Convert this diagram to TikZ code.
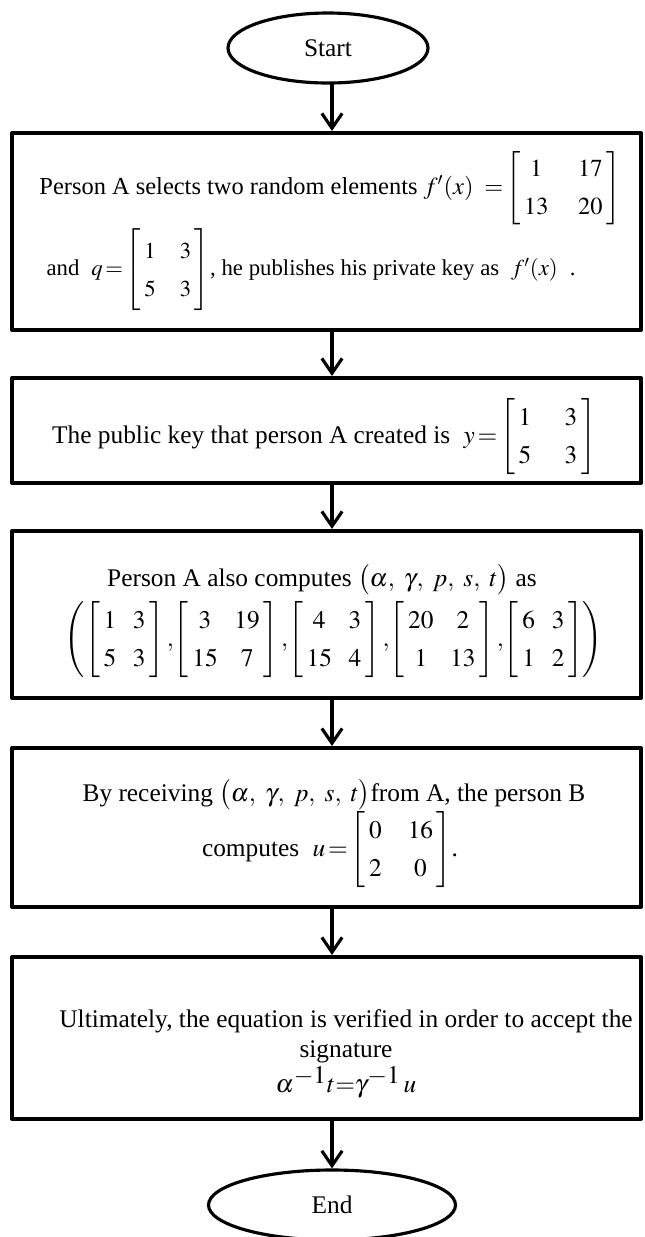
\documentclass[tikz,border=0pt]{standalone}
\usepackage{amsmath}
\usepackage{mathptmx}
\usepackage{fontspec}
\setmainfont{Liberation Serif}
\usetikzlibrary{arrows.meta,shapes.geometric}
\renewcommand{\arraystretch}{1.25}
% 2x2 matrix, optional column gap
\newcommand{\kmat}[5][16pt]{\left[\begin{array}{@{\hspace{2pt}}c@{\hspace{#1}}c@{\hspace{2pt}}}#2&#3\\#4&#5\end{array}\right]}
\tikzset{
  termnode/.style={ellipse,draw,line width=1.7pt,inner sep=0pt,font=\fontsize{13.7}{16.4}\selectfont},
  procbox/.style={rectangle,draw,line width=2.2pt,minimum width=629*0.54pt,inner sep=0pt},
  txt/.style={inner sep=0pt,align=center,font=\fontsize{13.7}{16.4}\selectfont},
  flow/.style={-{Straight Barb[length=8pt,width=11pt]},line width=1.7pt},
  every picture/.style={line cap=round,line join=round}
}

\begin{document}
\begin{tikzpicture}[x=0.54pt,y=-0.54pt]
  \useasboundingbox (0,0) rectangle (645,1237);
  % terminals
  \node[termnode,minimum width=200*0.54pt,minimum height=70*0.54pt] (start) at (328,48) {Start};
  \node[termnode,minimum width=247*0.54pt,minimum height=70*0.54pt] (end) at (332,1205) {End};
  % process boxes
  \node[procbox,minimum height=197*0.54pt] (b1) at (326.5,231.5) {};
  \node[procbox,minimum height=105*0.54pt] (b2) at (326.5,430.5) {};
  \node[procbox,minimum height=167*0.54pt] (b3) at (326.5,614.5) {};
  \node[procbox,minimum height=159*0.54pt] (b4) at (326.5,827.5) {};
  \node[procbox,minimum height=162*0.54pt] (b5) at (326.5,1038) {};
  % box texts
  \node[txt,font=\fontsize{13.2}{16.4}\selectfont] (t1a) at (330,188)
    {Person A selects two random elements $f'(x)\;\;{=}\kmat{1}{17}{13}{20}$};
  \node[txt,font=\fontsize{12.3}{16.4}\selectfont] (t1b) at (311,270)
    {and\; $q\,{=}\kmat[13pt]{1}{3}{5}{3}$, he publishes his private key as\; $f'(x)$\; .};
  \node[txt] (t2) at (324,437) {The public key that person A created is\; $y\,{=}\kmat[18pt]{1}{3}{5}{3}$};
  \node[txt] (t3a) at (322,580) {Person A also computes $\bigl(\alpha,\ \gamma,\ p,\ s,\ t\bigr)$ as};
  \node[txt] (t3b) at (334,640) {$\left(\kmat[9pt]{1}{3}{5}{3},\!\kmat[9pt]{3}{19}{15}{7},\!\kmat[9pt]{4}{3}{15}{4},\!\kmat[9pt]{20}{2}{1}{13},\!\kmat[9pt]{6}{3}{1}{2}\right)$};
  \node[txt] (t4a) at (334,795) {By receiving $\bigl(\alpha,\ \gamma,\ p,\ s,\ t\bigr)$from A, the person B};
  \node[txt] (t4b) at (330,850) {computes\; $u\,{=}\kmat[14pt]{0}{16}{2}{0}$.};
  \node[txt] (t5) at (346,1054)
    {Ultimately, the equation is verified in order to accept the\\ signature\\[1pt] $\alpha^{\textstyle -1}t{=}\gamma^{\textstyle -1}\,u$};
  % connectors
  \draw[flow] (start.south -| end) -- (b1.north -| end);
  \draw[flow] (b1.south -| end) -- (b2.north -| end);
  \draw[flow] (b2.south -| end) -- (b3.north -| end);
  \draw[flow] (b3.south -| end) -- (b4.north -| end);
  \draw[flow] (b4.south -| end) -- (b5.north -| end);
  \draw[flow] (b5.south -| end) -- (end);
\end{tikzpicture}
\end{document}
